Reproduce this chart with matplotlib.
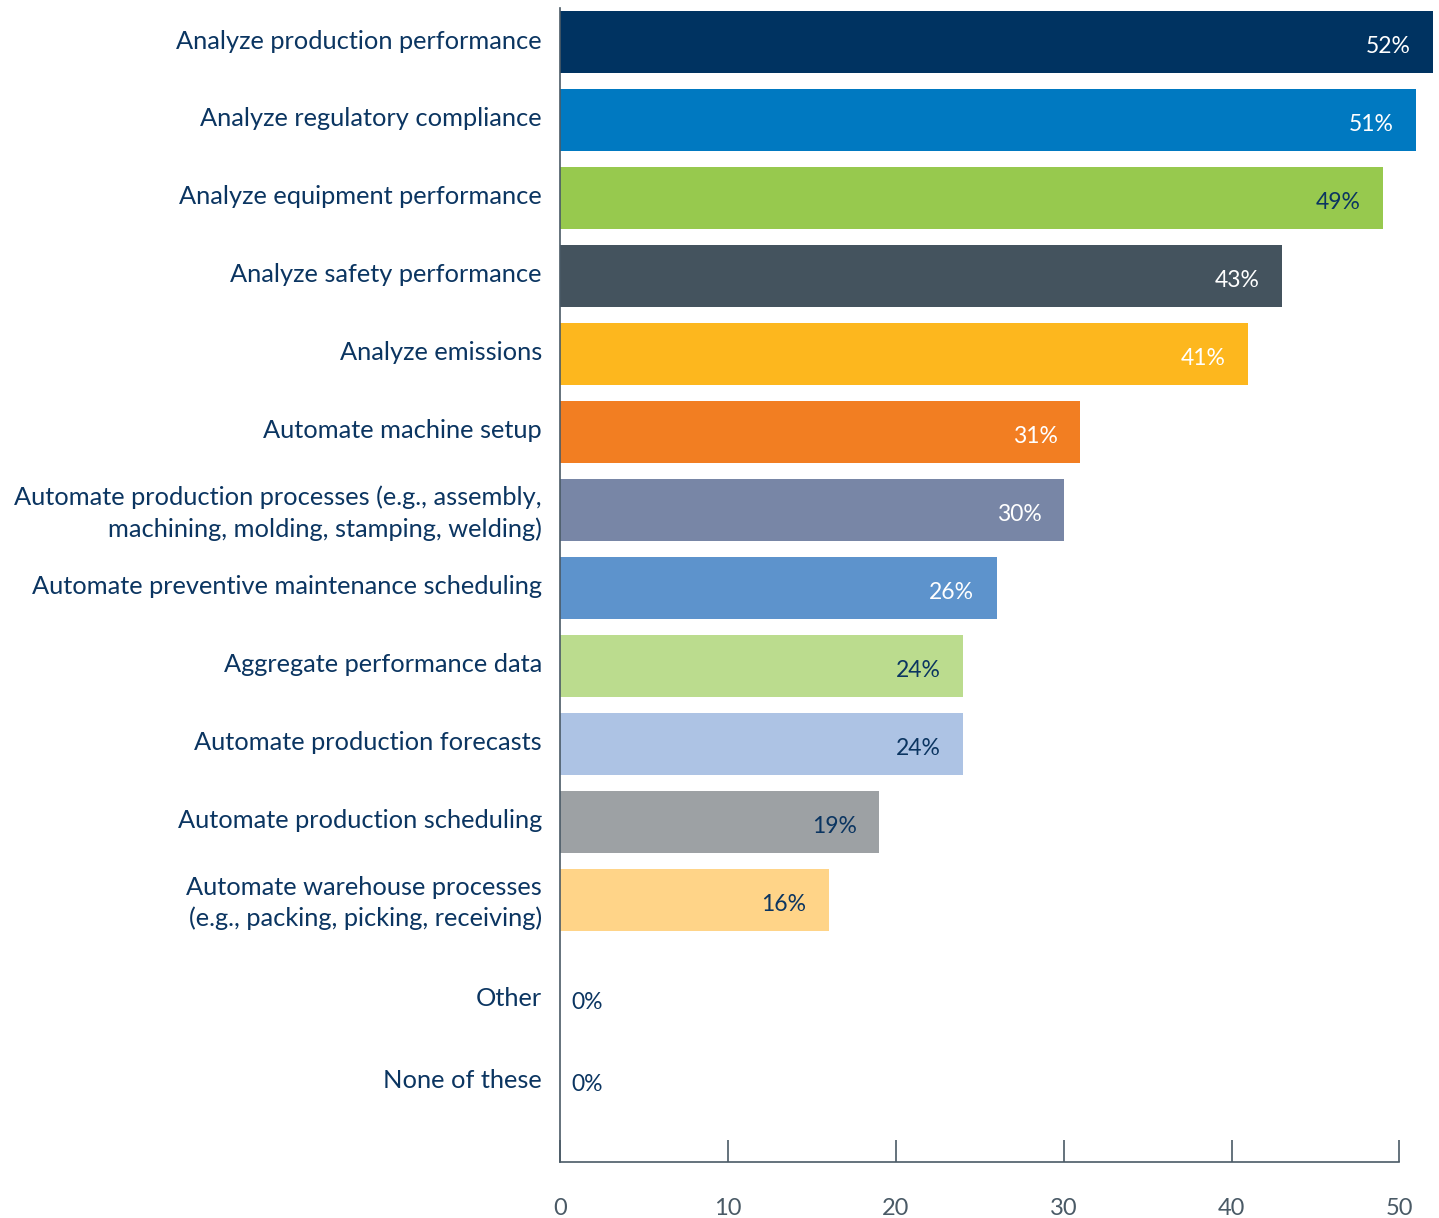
import matplotlib
matplotlib.use("Agg")
import matplotlib.pyplot as plt
import matplotlib.transforms as mtransforms
import numpy as np

categories = [
    "Analyze production performance",
    "Analyze regulatory compliance",
    "Analyze equipment performance",
    "Analyze safety performance",
    "Analyze emissions",
    "Automate machine setup",
    "Automate production processes (e.g., assembly,\nmachining, molding, stamping, welding)",
    "Automate preventive maintenance scheduling",
    "Aggregate performance data",
    "Automate production forecasts",
    "Automate production scheduling",
    "Automate warehouse processes\n(e.g., packing, picking, receiving)",
    "Other",
    "None of these",
]
values = [52, 51, 49, 43, 41, 31, 30, 26, 24, 24, 19, 16, 0, 0]
colors = ["#003361", "#0079C1", "#97C94E", "#44535E", "#FDB71E", "#F27E22",
          "#7886A6", "#5D93CC", "#BBDC8E", "#ADC3E4", "#9DA1A4", "#FFD488",
          "#FFFFFF", "#FFFFFF"]
label_colors = ["white", "white", "#0B3561", "white", "white", "white",
                "white", "white", "#0B3561", "#0B3561", "#0B3561", "#0B3561",
                "#0B3561", "#0B3561"]
xticks = [0, 10, 20, 30, 40, 50]

NAVY = "#0B3561"
SLATE = "#4A5A66"
plt.rcParams['font.family'] = ['Lato', 'DejaVu Sans']

fig = plt.figure(figsize=(14.39, 12.18), dpi=100)
ax = fig.add_axes([560/1439, 1 - 1162/1218, (1433-560)/1439, (1162-8)/1218])

ys = np.arange(len(values), dtype=float)
ys[12] += 0.28
ys[13] += 0.33

ax.barh(ys, values, height=0.8, color=colors)
for y, v, lc in zip(ys, values, label_colors):
    if v > 0:
        ax.annotate(f"{v}%", (v, y), xytext=(-16, -3.5), textcoords="offset points",
                    ha="right", va="center", color=lc, fontsize=16.5)
    else:
        ax.annotate(f"{v}%", (v, y), xytext=(8, -2), textcoords="offset points",
                    ha="left", va="center", color=lc, fontsize=16.5)

ax.set_xlim(0, 52)
ax.set_ylim(14.36, -0.436)
ax.set_yticks(ys)
ax.set_yticklabels(categories, fontsize=18.3, color=NAVY, ha="right",
                   multialignment="right", linespacing=1.42)
ax.tick_params(axis="y", length=0, pad=13)
shift = mtransforms.ScaledTranslation(0, 3/100, fig.dpi_scale_trans)
for lbl in ax.get_yticklabels():
    lbl.set_transform(lbl.get_transform() + shift)
ax.set_xticks(xticks)
ax.set_xticklabels([str(t) for t in xticks], fontsize=17, color=SLATE)
ax.tick_params(axis="x", direction="in", length=16, width=1.2, color=SLATE, pad=26)

for s in ["top", "right"]:
    ax.spines[s].set_visible(False)
for s in ["left", "bottom"]:
    ax.spines[s].set_color(SLATE)
    ax.spines[s].set_linewidth(1.2)
ax.spines["bottom"].set_bounds(0, 50)

fig.savefig("out.png", dpi=100)
